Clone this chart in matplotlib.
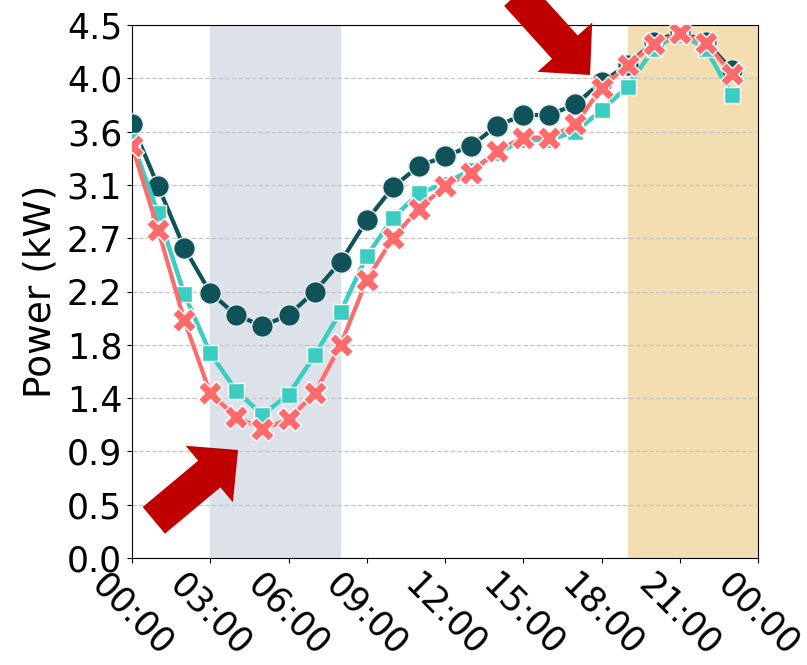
import matplotlib
matplotlib.use("Agg")
import matplotlib.pyplot as plt
import numpy as np

hours = list(range(24))
series_dark = [3.66, 3.14, 2.62, 2.24, 2.05, 1.96, 2.05, 2.25, 2.50, 2.85, 3.13, 3.31,
               3.39, 3.48, 3.65, 3.74, 3.74, 3.83, 4.02, 4.16, 4.36, 4.44, 4.36, 4.12]
series_teal = [3.52, 2.91, 2.23, 1.73, 1.41, 1.21, 1.38, 1.71, 2.08, 2.55, 2.87, 3.08,
               3.16, 3.28, 3.42, 3.53, 3.53, 3.60, 3.78, 3.98, 4.30, 4.43, 4.30, 3.91]
series_red = [3.48, 2.77, 2.01, 1.39, 1.19, 1.09, 1.17, 1.39, 1.80, 2.35, 2.70, 2.95,
              3.14, 3.25, 3.44, 3.55, 3.55, 3.66, 3.97, 4.16, 4.34, 4.43, 4.35, 4.09]
xtick_hours = [0, 3, 6, 9, 12, 15, 18, 21, 24]
xtick_labels = ["00:00", "03:00", "06:00", "09:00", "12:00", "15:00", "18:00", "21:00", "00:00"]
shade_gray = (3, 8)
shade_orange = (19, 24)

fig = plt.figure(figsize=(8.07, 6.65), dpi=100)
ax = fig.add_axes([0.1636, 0.1609, 0.9393 - 0.1636, 0.9624 - 0.1609])

ax.axvspan(*shade_gray, color="#dde2ea", lw=0, zorder=1)
ax.axvspan(*shade_orange, color="#f2deb0", lw=0, zorder=1)

ax.plot(hours, series_dark, color="#10525a", lw=3, marker="o", ms=15.5,
        mec="#e8eeee", mew=1, zorder=3)
ax.plot(hours, series_teal, color="#3ccdc2", lw=3.2, marker="s", ms=11.5,
        mec="white", mew=1, zorder=4)
ax.plot(hours, series_red, color="#ff6b6b", lw=3, marker="X", ms=17,
        mec="white", mew=1, zorder=5)

ax.set_xlim(0, 24)
ax.set_ylim(0, 4.5)
yt = np.linspace(0, 4.5, 11)
ax.set_yticks(yt)
ax.set_yticklabels(["%.1f" % v for v in yt])
ax.set_xticks(xtick_hours)
ax.set_xticklabels(xtick_labels, rotation=-45, ha="center", va="top")
ax.tick_params(labelsize=25)
ax.yaxis.grid(True, linestyle="--", color="#c4c4c4", lw=0.9)
ax.set_ylabel("Power (kW)", fontsize=27, labelpad=6)

arrow_kw = dict(facecolor="#c00000", edgecolor="none", width=25, headwidth=53,
                headlength=27, shrink=0.0)
ax.annotate("", xy=(4.065, 0.912), xytext=(0.836, 0.318),
            arrowprops=arrow_kw, annotation_clip=False, zorder=10)
ax.annotate("", xy=(17.56, 4.078), xytext=(14.76, 4.76),
            arrowprops=arrow_kw, annotation_clip=False, zorder=10)

fig.savefig("out.png", dpi=100)
